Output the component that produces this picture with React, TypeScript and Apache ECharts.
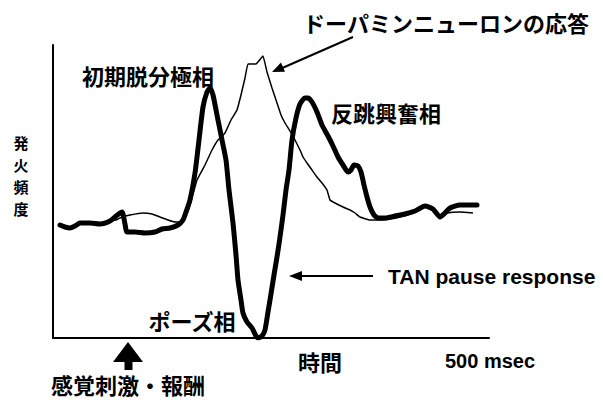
import React, { useEffect, useRef } from "react";
import * as echarts from "echarts";

// TAN (thick) response: time (arbitrary units along the axis) and firing rate
const tanTime = [7, 12, 17, 22, 27, 37, 47, 57, 63, 69, 72, 74, 82, 92, 102, 109, 117, 125, 130, 133, 137, 142, 146, 150, 154, 157, 160, 164, 169, 173, 176, 180, 183, 185, 188, 190, 194, 199, 203, 205, 209, 212, 215, 217, 221, 224, 227, 230, 233, 236, 239, 243, 247, 252, 255, 259, 264, 269, 275, 280, 285, 290, 295, 298, 301, 305, 308, 311, 314, 317, 321, 325, 332, 342, 352, 362, 372, 380, 387, 392, 397, 407, 417, 424];
const tanRate = [113, 111, 110, 112, 115, 115, 114, 117, 122, 126, 114, 106, 106, 105, 106, 109, 110, 113, 118, 126, 138, 165, 198, 231, 246, 250, 243, 223, 198, 178, 148, 115, 83, 58, 38, 25, 16, 10, 2, 0, 2, 8, 26, 38, 63, 81, 101, 123, 148, 168, 198, 220, 234, 240, 240, 236, 226, 213, 202, 192, 181, 173, 166, 168, 173, 172, 166, 153, 141, 131, 123, 120, 120, 122, 124, 127, 132, 129, 121, 125, 130, 133, 133, 133];

// Dopamine neuron (thin) response
const daTime = [7, 17, 27, 37, 47, 57, 63, 69, 77, 90, 99, 107, 115, 122, 127, 132, 137, 144, 152, 159, 165, 172, 178, 184, 188, 192, 195, 203, 205, 210, 214, 219, 224, 228, 232, 237, 242, 247, 250, 254, 259, 264, 269, 274, 277, 282, 290, 297, 302, 307, 317, 327, 337, 347, 357, 367, 372, 380, 387, 394, 407, 420];
const daRate = [113, 110, 115, 115, 115, 117, 118, 121, 123, 125, 124, 121, 118, 116, 116, 120, 133, 158, 173, 188, 198, 205, 218, 228, 243, 260, 274, 274, 276, 282, 266, 250, 235, 223, 215, 207, 198, 188, 181, 175, 168, 161, 155, 148, 138, 135, 131, 128, 125, 121, 118, 118, 119, 121, 124, 128, 131, 128, 122, 125, 126, 125];

const labels = {
  da: "ドーパミンニューロンの応答",
  initial: "初期脱分極相",
  rebound: "反跳興奮相",
  yName: "発火頻度",
  pause: "ポーズ相",
  tan: "TAN pause response",
  xName: "時間",
  scale: "500 msec",
  stimulus: "感覚刺激・報酬",
};

const CJK = '"Noto Sans CJK JP", "Noto Sans", sans-serif';
const LATIN = '"Liberation Sans", Arial, sans-serif';

export default function App() {
  const ref = useRef<HTMLDivElement>(null);
  useEffect(() => {
    if (!ref.current) return;
    const chart = echarts.init(ref.current, undefined, { renderer: "svg" });
    const pair = (xs: number[], ys: number[]) => xs.map((x, i) => [x, ys[i]]);
    const txt = (text: string, x: number, y: number, size: number, align: string, font = CJK, lineHeight?: number) => ({
      type: "text",
      x,
      y,
      style: {
        text,
        fontSize: size,
        fontWeight: "bold",
        fontFamily: font,
        fill: "#000",
        align,
        verticalAlign: "middle",
        ...(lineHeight ? { lineHeight } : {}),
      },
    });
    const yNameChars = labels.yName.split("").map((ch, i) => txt(ch, 21, 142 + i * 22, 15, "center", CJK, 16));
    chart.setOption({
      animation: false,
      backgroundColor: "#fff",
      grid: { left: 53, right: 114, top: 45, bottom: 62 },
      xAxis: {
        type: "value",
        min: 0,
        max: 436,
        axisLine: { show: true, lineStyle: { color: "#000", width: 2 } },
        axisTick: { show: false },
        axisLabel: { show: false },
        splitLine: { show: false },
      },
      yAxis: {
        type: "value",
        min: 0,
        max: 293,
        axisLine: { show: true, lineStyle: { color: "#000", width: 2 } },
        axisTick: { show: false },
        axisLabel: { show: false },
        splitLine: { show: false },
      },
      series: [
        {
          type: "line",
          data: pair(tanTime, tanRate),
          showSymbol: false,
          smooth: 0.2,
          lineStyle: { color: "#000", width: 5, join: "round", cap: "round" },
          z: 2,
        },
        {
          type: "line",
          data: pair(daTime, daRate),
          showSymbol: false,
          smooth: 0.1,
          lineStyle: { color: "#000", width: 1.5 },
          z: 3,
        },
      ],
      graphic: [
        txt(labels.da, 446, 22, 22, "center"),
        txt(labels.initial, 148, 75, 22, "center"),
        txt(labels.rebound, 386, 112, 22, "center"),
        ...yNameChars,
        txt(labels.pause, 192, 320, 22, "center"),
        txt(labels.tan, 388, 276, 21, "left", LATIN),
        txt(labels.xName, 320, 361, 22, "center"),
        txt(labels.scale, 445, 361, 20, "left", LATIN),
        txt(labels.stimulus, 128, 384, 22, "center"),
        // arrow to dopamine trace
        { type: "line", shape: { x1: 353, y1: 37, x2: 280, y2: 69 }, style: { stroke: "#000", lineWidth: 2 } },
        { type: "polygon", shape: { points: [[272, 72], [285, 71.8], [281, 62.6]] }, style: { fill: "#000" } },
        // arrow to TAN trace
        { type: "line", shape: { x1: 373, y1: 276, x2: 298, y2: 276 }, style: { stroke: "#000", lineWidth: 2 } },
        { type: "polygon", shape: { points: [[289, 276], [302, 271], [302, 281]] }, style: { fill: "#000" } },
        // stimulus up arrow
        { type: "polygon", shape: { points: [[128, 342], [113, 362], [143, 362]] }, style: { fill: "#000" } },
        { type: "rect", shape: { x: 124.5, y: 361, width: 8, height: 9 }, style: { fill: "#000" } },
      ],
    });
    return () => chart.dispose();
  }, []);
  return <div ref={ref} style={{ position: "fixed", left: 0, top: 0, width: 603, height: 400 }} />;
}
